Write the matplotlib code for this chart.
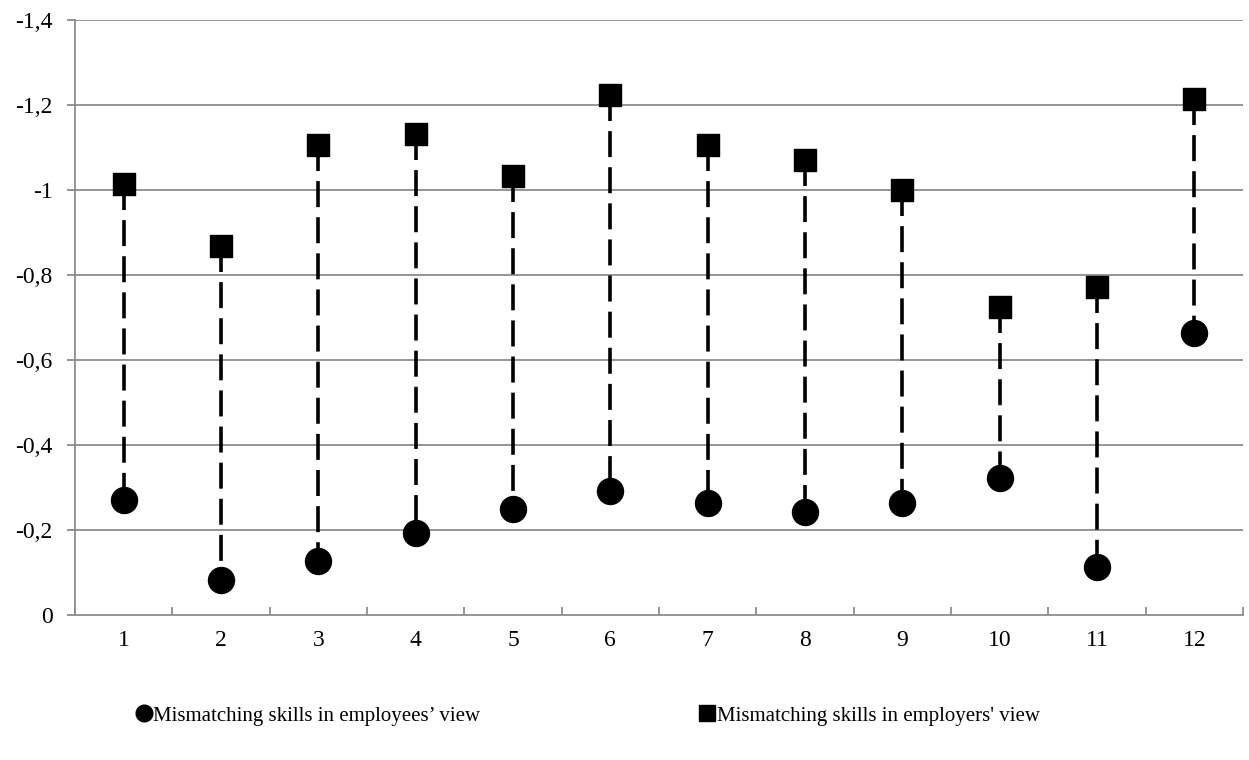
import matplotlib
matplotlib.use('Agg')
import matplotlib.pyplot as plt
import numpy as np
from matplotlib.lines import Line2D

plt.rcParams['font.family'] = ['Liberation Serif', 'DejaVu Serif']

# data
categories = [str(i) for i in range(1, 13)]
employees = [-0.270, -0.082, -0.127, -0.193, -0.249, -0.291,
             -0.263, -0.242, -0.263, -0.322, -0.113, -0.663]
employers = [-1.013, -0.867, -1.105, -1.131, -1.032, -1.222,
             -1.105, -1.070, -0.999, -0.724, -0.771, -1.213]
ytick_vals = [-1.4, -1.2, -1.0, -0.8, -0.6, -0.4, -0.2, 0]
ytick_labels = ['-1,4', '-1,2', '-1', '-0,8', '-0,6', '-0,4', '-0,2', '0']
legend_labels = ['Mismatching skills in employees\u2019 view',
                 "Mismatching skills in employers' view"]

fig = plt.figure(figsize=(12.49, 7.6), dpi=100)
ax = fig.add_axes([0.06, 0.1908, 0.9352, 0.7835])

x = np.arange(1, len(categories) + 1)

# dashed connectors, drawn from the square down to the circle
ax.vlines(x, employers, employees, colors='black', linewidth=2.6,
          linestyles=(0, (7.2, 2.8)), zorder=2)
ax.scatter(x, employees, marker='o', s=350, color='black', zorder=3)
ax.scatter(x, employers, marker='s', s=256, color='black', zorder=3)

ax.set_xlim(0.5, 12.5)
ax.set_ylim(0, -1.4)
ax.set_yticks(ytick_vals)
ax.set_yticklabels(ytick_labels)
ax.set_xticks(x)
ax.set_xticklabels(categories)
ax.set_xticks(np.arange(0.5, 13, 1), minor=True)

grid_col = '#8c8c8c'
for y in ytick_vals[:-1]:
    ax.axhline(y, color=grid_col, linewidth=1.3, zorder=1)

for s in ['top', 'right']:
    ax.spines[s].set_visible(False)
for s in ['left', 'bottom']:
    ax.spines[s].set_color(grid_col)
    ax.spines[s].set_linewidth(1.3)

ax.tick_params(axis='x', which='major', length=0, pad=11, labelsize=17)
ax.tick_params(axis='x', which='minor', direction='in', length=6,
               color=grid_col, width=1.3)
ax.tick_params(axis='y', length=6, color=grid_col, width=1.3, labelsize=17,
               pad=10)

handles = [Line2D([], [], marker='o', color='black', linestyle='none', markersize=12),
           Line2D([], [], marker='s', color='black', linestyle='none', markersize=11)]
fig.legend(handles, legend_labels, loc='center left',
           bbox_to_anchor=(0.095, 0.058), ncol=2, frameon=False,
           fontsize=15, handlelength=0.6, handletextpad=0.15,
           columnspacing=10.6)

fig.savefig('out.png', dpi=100)
